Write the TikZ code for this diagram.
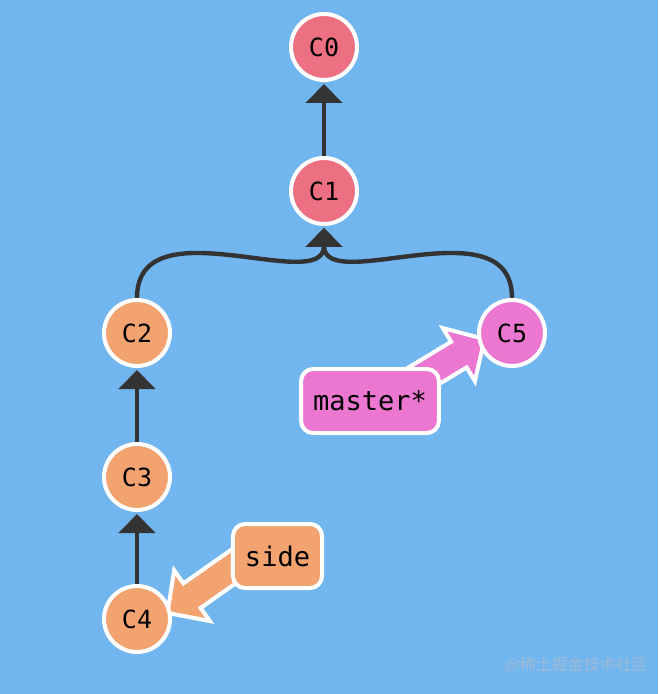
\documentclass[tikz,border=0pt]{standalone}
\usepackage{fontspec}
\setmonofont{DejaVu Sans Mono}
\newfontfamily\cjkfont{Noto Sans CJK SC}
\usepackage{tikz}
\usetikzlibrary{positioning,arrows.meta,calc,backgrounds}
\definecolor{bgblue}{HTML}{72B6F0}
\definecolor{commitred}{HTML}{ED6F82}
\definecolor{sideorange}{HTML}{F2A36F}
\definecolor{masterpink}{HTML}{EC77D1}
\definecolor{edgegray}{HTML}{333333}
\definecolor{wmgray}{HTML}{9EBAD6}

% fat branch arrow: colour, tail, tip
\newcommand{\brancharrow}[3]{%
  \coordinate (#3-b) at ($(#3)!15pt!(#2)$);
  \path[draw=white, line width=2pt, fill=#1, line join=miter]
    ($(#2)!7.5pt!90:(#3)$) -- ($(#3-b)!7.5pt!90:(#3)$) -- ($(#3-b)!15.5pt!90:(#3)$)
    -- (#3) -- ($(#3-b)!15.5pt!-90:(#3)$) -- ($(#3-b)!7.5pt!-90:(#3)$)
    -- ($(#2)!7.5pt!-90:(#3)$) -- cycle;
}

\begin{document}
\begin{tikzpicture}[x=0.5pt, y=-0.5pt,
      commit/.style={circle, draw=white, line width=2pt, minimum size=33pt,
                     inner sep=0pt, font=\ttfamily\fontsize{12.5}{14}\selectfont},
      branch/.style={rectangle, rounded corners=6pt, draw=white, line width=2pt,
                     minimum height=32pt, inner xsep=6pt,
                     font=\ttfamily\fontsize{13.5}{15}\selectfont},
      edge/.style={draw=edgegray, line width=2.2pt, shorten >=1pt,
                   -{Triangle[width=18pt,length=9.5pt]}},
    ]
    \begin{scope}[on background layer]
      \fill[bgblue] (0,0) rectangle (658,694);
    \end{scope}

    \node[commit, fill=commitred] (c0) at (324,47) {C0};
    \node[commit, fill=commitred, below=37pt of c0] (c1) {C1};
    \node[commit, fill=sideorange] (c2) at (137,333) {C2};
    \node[commit, fill=sideorange, below=37pt of c2] (c3) {C3};
    \node[commit, fill=sideorange, below=36pt of c3] (c4) {C4};
    \node[commit, fill=masterpink] (c5) at (512,333) {C5};

    \node[branch, fill=masterpink] (mst) at (370,401) {master*};
    \node[branch, fill=sideorange] (side) at (277.5,556) {side};

    \coordinate (mtail) at ([xshift=6pt]mst.center);
    \coordinate (mtip) at ([xshift=3.5pt]c5.190);
    \coordinate (stail) at ([xshift=-6pt,yshift=6pt]side.center);
    \coordinate (stip) at ([xshift=-2pt]c4.10);

    \begin{scope}[on background layer]
      \draw[edge] (c1) -- (c0);
      \draw[edge] (c2.north) .. controls +(0,-95) and +(0,70) .. (c1.south);
      \draw[edge] (c5.north) .. controls +(0,-95) and +(0,70) .. (c1.south);
      \draw[edge] (c3) -- (c2);
      \draw[edge] (c4) -- (c3);
      \brancharrow{masterpink}{mtail}{mtip}
      \brancharrow{sideorange}{stail}{stip}
    \end{scope}

    \node[anchor=east, text=wmgray, font=\cjkfont\fontsize{8}{9}\selectfont] (wm)
      at (655,665) {@稀土掘金技术社区};
\end{tikzpicture}
\end{document}
